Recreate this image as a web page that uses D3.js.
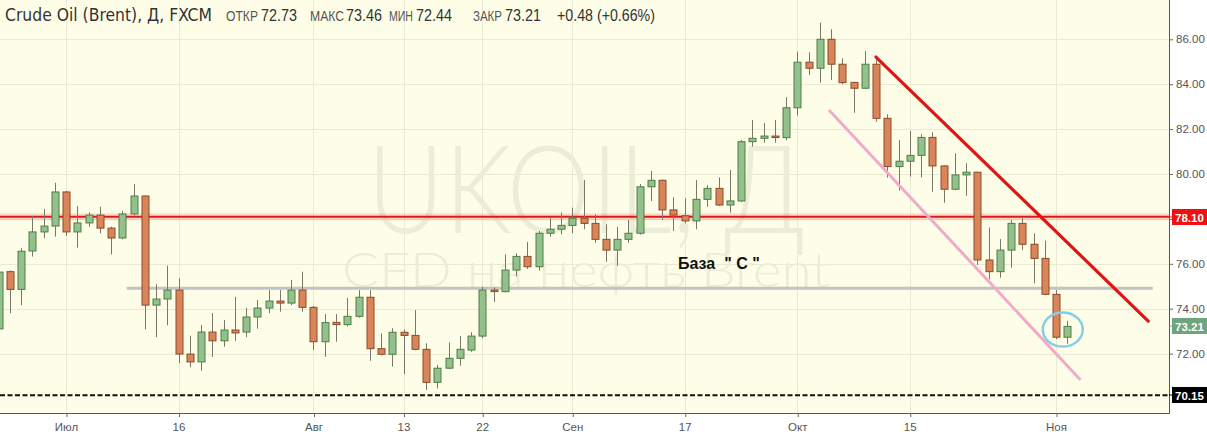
<!DOCTYPE html>
<html><head><meta charset="utf-8">
<script src="https://cdn.jsdelivr.net/npm/d3@7"></script>
<style>body{margin:0;background:#fff;}svg{display:block}</style>
</head><body><svg id="c" width="1207" height="436"></svg>
<script>
// ---------- DATA ----------
const dates = ["2018-06-22","2018-06-25","2018-06-26","2018-06-27","2018-06-28","2018-06-29",
"2018-07-02","2018-07-03","2018-07-04","2018-07-05","2018-07-06","2018-07-09","2018-07-10","2018-07-11","2018-07-12","2018-07-13",
"2018-07-16","2018-07-17","2018-07-18","2018-07-19","2018-07-20","2018-07-23","2018-07-24","2018-07-25","2018-07-26","2018-07-27",
"2018-07-30","2018-07-31","2018-08-01","2018-08-02","2018-08-03","2018-08-06","2018-08-07","2018-08-08","2018-08-09","2018-08-10",
"2018-08-13","2018-08-14","2018-08-15","2018-08-16","2018-08-17","2018-08-20","2018-08-21","2018-08-22","2018-08-23","2018-08-24",
"2018-08-27","2018-08-28","2018-08-29","2018-08-30","2018-08-31","2018-09-03","2018-09-04","2018-09-05","2018-09-06","2018-09-07",
"2018-09-10","2018-09-11","2018-09-12","2018-09-13","2018-09-14","2018-09-17","2018-09-18","2018-09-19","2018-09-20","2018-09-21",
"2018-09-24","2018-09-25","2018-09-26","2018-09-27","2018-09-28","2018-10-01","2018-10-02","2018-10-03","2018-10-04","2018-10-05",
"2018-10-08","2018-10-09","2018-10-10","2018-10-11","2018-10-12","2018-10-15","2018-10-16","2018-10-17","2018-10-18","2018-10-19",
"2018-10-22","2018-10-23","2018-10-24","2018-10-25","2018-10-26","2018-10-29","2018-10-30","2018-10-31","2018-11-01","2018-11-02"];

const open = [73.10,75.65,74.86,76.57,77.42,77.68,
79.20,77.42,77.82,78.17,77.59,77.15,78.22,79.02,74.16,74.43,
74.83,71.98,71.63,72.96,72.57,73.05,72.96,73.63,74.03,74.34,
74.25,74.83,74.06,72.53,73.39,73.29,73.66,74.51,72.22,71.97,
72.95,72.81,72.19,70.72,71.35,71.79,72.16,72.78,74.83,74.76,
75.72,76.33,75.87,77.36,77.54,77.71,78.03,77.80,77.09,76.61,
77.09,77.36,79.43,79.72,78.40,78.14,77.91,78.87,79.36,78.62,
78.80,81.44,81.59,81.69,81.62,82.95,84.98,84.71,86.00,84.89,
84.08,83.82,84.89,82.48,80.33,80.57,80.83,81.63,80.36,79.32,
79.96,80.08,76.17,75.65,76.61,77.80,76.87,76.24,74.64,72.73];

const high = [75.80,75.70,76.69,78.14,78.44,79.61,
79.25,78.57,78.29,78.54,77.65,78.35,79.55,79.05,75.09,75.92,
75.35,72.80,73.27,73.80,73.50,74.53,74.04,74.39,74.83,74.83,
75.28,75.65,74.12,73.76,73.76,74.48,74.83,74.83,72.90,73.13,
73.08,73.94,72.46,71.49,72.50,72.78,72.95,74.98,74.95,76.42,
76.47,76.98,77.46,78.03,78.28,78.50,79.73,78.20,77.76,77.65,
77.95,79.55,80.13,79.75,78.96,78.92,79.73,79.51,79.85,80.18,
81.51,82.40,82.27,82.40,83.42,85.45,85.42,86.74,86.45,85.15,
84.10,85.48,85.08,82.66,81.51,81.92,81.77,81.86,80.40,80.92,
80.48,80.10,77.61,77.10,77.95,78.03,77.36,77.03,74.83,73.46];

const low = [72.90,73.80,74.16,76.32,77.14,77.21,
77.24,76.72,77.65,77.36,76.42,77.09,78.15,73.08,72.73,73.26,
71.57,71.39,71.24,71.86,72.31,72.57,72.73,73.11,73.80,73.87,
74.16,73.87,72.16,71.86,72.53,73.20,73.60,71.68,71.92,71.42,
71.09,72.15,70.38,70.45,71.31,71.46,72.08,72.68,74.30,74.73,
75.43,75.77,75.69,77.21,77.31,77.36,77.54,76.94,76.09,75.90,
76.94,77.30,78.80,77.95,77.46,77.80,77.54,78.54,78.57,78.28,
78.75,81.22,81.39,81.39,81.50,82.60,84.41,84.07,84.19,84.00,
82.73,83.78,82.33,79.84,79.26,79.88,79.85,79.21,78.72,79.28,
79.03,75.95,75.31,75.38,75.83,76.61,75.13,74.60,72.64,72.44];

const close = [75.63,74.86,76.56,77.42,77.68,79.20,
77.42,77.82,78.17,77.59,77.15,78.22,79.02,74.16,74.43,74.83,
71.98,71.63,72.96,72.57,73.05,72.92,73.63,74.03,74.34,74.25,
74.83,74.06,72.53,73.38,73.29,73.66,74.51,72.22,71.97,72.95,
72.81,72.19,70.72,71.35,71.79,72.19,72.78,74.83,74.77,75.72,
76.33,75.87,77.36,77.54,77.71,78.03,77.80,77.09,76.61,77.09,
77.36,79.43,79.72,78.40,78.17,77.91,78.87,79.36,78.62,78.80,
81.44,81.59,81.69,81.65,82.95,84.98,84.71,86.00,84.89,84.07,
83.82,84.89,82.48,80.33,80.57,80.83,81.63,80.36,79.32,79.96,
80.08,76.17,75.65,76.61,77.80,76.87,76.24,74.64,72.73,73.21];

const tickDates  = ["2018-07-02","2018-07-16","2018-08-01","2018-08-13","2018-08-22","2018-09-03","2018-09-17","2018-10-01","2018-10-15","2018-11-01"];
const tickLabels = ["Июл","16","Авг","13","22","Сен","17","Окт","15","Ноя"];
const priceTicks = [72,74,76,78,80,82,84,86];

const levelRed = 78.10;
const levelBlack = 70.15;
// drawings in [bar index, price]
const grayLine  = [[11.4, 74.91],[102.6, 74.91]];
const redTrend  = [[78.0, 85.21],[102.2, 73.45]];
const pinkTrend = [[73.9, 82.81],[96.1, 70.87]];
const circleAt  = [94.6, 73.07];
const noteAt    = [60.4, 75.78];
const noteText  = "База  \" С \"";
const title = "Crude Oil (Brent), Д, FXCM";
const headerLabels = ["ОТКР","МАКС","МИН","ЗАКР"];
const watermark1 = "UKOIL, Д";
const watermark2 = "CFD на нефть Brent";

// ---------- LAYOUT ----------
const W = 1207, H = 436, plotR = 1169, plotB = 413;
const svg = d3.select("#c");
const x = d3.scaleLinear().domain([0, 95]).range([-1.5, 1067.25]);
const y = d3.scaleLinear().domain([70, 86]).range([398.5, 39.3]);
const idx = d => dates.indexOf(d);

svg.append("rect").attr("width", W).attr("height", H).attr("fill", "#ffffff");
svg.append("rect").attr("width", plotR).attr("height", plotB).attr("fill", "#fefee8");

svg.append("defs").append("clipPath").attr("id","clip")
  .append("rect").attr("width", plotR).attr("height", plotB);

const plot = svg.append("g").attr("clip-path","url(#clip)");

// grid
plot.selectAll(".hg").data(priceTicks).join("line")
  .attr("x1",0).attr("x2",plotR).attr("y1",d=>Math.round(y(d))+0.5).attr("y2",d=>Math.round(y(d))+0.5)
  .attr("stroke","#e9ead4").attr("stroke-width",1);
plot.selectAll(".vg").data(tickDates).join("line")
  .attr("y1",0).attr("y2",plotB).attr("x1",d=>Math.round(x(idx(d)))+0.5).attr("x2",d=>Math.round(x(idx(d)))+0.5)
  .attr("stroke","#e9ead4").attr("stroke-width",1);

// watermark
plot.append("text").text(watermark1).attr("x",586).attr("y",233)
  .attr("text-anchor","middle").attr("font-family","Lato, 'Liberation Sans', sans-serif").attr("font-weight",300)
  .attr("font-size",122).attr("fill","#ecedd6").attr("textLength",438).attr("lengthAdjust","spacingAndGlyphs");
plot.append("text").text(watermark2).attr("x",586).attr("y",287)
  .attr("text-anchor","middle").attr("font-family","Lato, 'Liberation Sans', sans-serif").attr("font-weight",300)
  .attr("font-size",48).attr("fill","#ecedd6").attr("textLength",488).attr("lengthAdjust","spacingAndGlyphs");

// header
const hdr = svg.append("g").attr("font-family","'Liberation Sans',Arial,sans-serif");
hdr.append("text").text(title).attr("x",5).attr("y",21)
  .attr("font-family","'DejaVu Sans Condensed','DejaVu Sans',sans-serif").attr("font-size",17).attr("fill","#333")
  .attr("textLength",207).attr("lengthAdjust","spacingAndGlyphs");
const last = dates.length - 1;
const chg = close[last] - close[last-1];
const hVals = [open[last], high[last], low[last], close[last]];
const hLabelX = [226, 310, 389, 473];
const hLabelW = [32, 34, 24, 29];
const hValX = [261, 346, 416, 505];
headerLabels.forEach((l,k)=>{
  hdr.append("text").text(l).attr("x",hLabelX[k]).attr("y",21).attr("font-size",14).attr("fill","#555")
    .attr("textLength",hLabelW[k]).attr("lengthAdjust","spacingAndGlyphs");
  hdr.append("text").text(hVals[k].toFixed(2)).attr("x",hValX[k]).attr("y",21).attr("font-size",17).attr("fill","#333")
    .attr("textLength",36).attr("lengthAdjust","spacingAndGlyphs");
});
hdr.append("text").text((chg>=0?"+":"")+chg.toFixed(2)+" ("+(chg>=0?"+":"")+(chg/close[last-1]*100).toFixed(2)+"%)")
  .attr("x",557).attr("y",21).attr("font-size",17).attr("fill","#333")
  .attr("textLength",98).attr("lengthAdjust","spacingAndGlyphs");

// horizontal levels
plot.append("line").attr("x1",0).attr("x2",plotR).attr("y1",y(levelRed)).attr("y2",y(levelRed))
  .attr("stroke","rgba(255,60,60,0.18)").attr("stroke-width",7);
plot.append("line").attr("x1",0).attr("x2",plotR).attr("y1",y(levelRed)).attr("y2",y(levelRed))
  .attr("stroke","#e01818").attr("stroke-width",2);
plot.append("line").attr("x1",x(grayLine[0][0])).attr("x2",x(grayLine[1][0]))
  .attr("y1",y(grayLine[0][1])).attr("y2",y(grayLine[1][1]))
  .attr("stroke","#c3c3c3").attr("stroke-width",3);
plot.append("line").attr("x1",0).attr("x2",plotR).attr("y1",y(levelBlack)).attr("y2",y(levelBlack))
  .attr("stroke","#111").attr("stroke-width",2).attr("stroke-dasharray","5,2.5");

// candles
const ohlc = dates.map((d,i)=>({i, o:open[i], h:high[i], l:low[i], c:close[i]}));
const up = d => d.c >= d.o;
const cg = plot.append("g");
cg.selectAll(".wick").data(ohlc).join("line")
  .attr("x1",d=>Math.round(x(d.i))+0.5).attr("x2",d=>Math.round(x(d.i))+0.5)
  .attr("y1",d=>y(d.h)).attr("y2",d=>y(d.l))
  .attr("stroke","#77776a").attr("stroke-width",1);
cg.selectAll(".body").data(ohlc).join("rect")
  .attr("x",d=>Math.round(x(d.i))-3)
  .attr("width",7)
  .attr("y",d=>y(Math.max(d.o,d.c)))
  .attr("height",d=>Math.max(1.5, Math.abs(y(d.o)-y(d.c))))
  .attr("fill",d=>up(d)?"#92c18c":"#da8459")
  .attr("stroke",d=>up(d)?"#4f7d48":"#8c4a2c").attr("stroke-width",1);

// trend lines
const ln = d3.line().x(d=>x(d[0])).y(d=>y(d[1]));
plot.append("path").attr("d",ln(pinkTrend)).attr("stroke","#f3a9c9").attr("stroke-width",3).attr("fill","none").attr("stroke-linecap","round");
plot.append("path").attr("d",ln(redTrend)).attr("stroke","#dd1616").attr("stroke-width",3.2).attr("fill","none").attr("stroke-linecap","round");
plot.append("ellipse").attr("cx",x(circleAt[0])).attr("cy",y(circleAt[1])).attr("rx",20).attr("ry",17)
  .attr("fill","none").attr("stroke","#86cde6").attr("stroke-width",2.5);

// note
plot.append("text").text(noteText).attr("x",x(noteAt[0])).attr("y",y(noteAt[1]))
  .attr("font-family","'Liberation Sans',Arial,sans-serif").attr("font-weight","bold").attr("font-size",16).attr("fill","#111")
  .attr("xml:space","preserve").style("white-space","pre");

// borders
svg.append("line").attr("x1",plotR+0.5).attr("x2",plotR+0.5).attr("y1",0).attr("y2",plotB+0.5).attr("stroke","#555");
svg.append("line").attr("x1",0).attr("x2",plotR+0.5).attr("y1",plotB+0.5).attr("y2",plotB+0.5).attr("stroke","#555");

// axes
const ax = svg.append("g").attr("transform",`translate(0,${plotB})`)
  .call(d3.axisBottom(x).tickValues(tickDates.map(idx)).tickFormat((d,i)=>tickLabels[i]).tickSize(4).tickPadding(6));
ax.select(".domain").remove();
ax.selectAll(".tick line").attr("stroke","#666").attr("transform","translate(0.5,0)");
ax.selectAll("text").attr("font-family","'Liberation Sans',Arial,sans-serif").attr("font-size",11.5).attr("fill","#555");

const ay = svg.append("g").attr("transform",`translate(${plotR},0)`)
  .call(d3.axisRight(y).tickValues(priceTicks).tickFormat(d3.format(".2f")).tickSize(4).tickPadding(3));
ay.select(".domain").remove();
ay.selectAll(".tick line").attr("stroke","#666");
ay.selectAll("text").attr("font-family","'Liberation Sans',Arial,sans-serif").attr("font-size",11.5).attr("fill","#555");

// price labels
[[levelRed,"#f01010"],[close[last],"#6ea57f"],[levelBlack,"#000"]].forEach(([v,col])=>{
  const g = svg.append("g").attr("transform",`translate(${plotR},${Math.round(y(v))})`);
  g.append("line").attr("x1",0).attr("x2",4).attr("stroke",col);
  g.append("rect").attr("x",3).attr("y",-8).attr("width",W-plotR-3).attr("height",16).attr("fill",col);
  g.append("text").text(v.toFixed(2)).attr("x",6).attr("y",4.5)
    .attr("font-family","'Liberation Sans',Arial,sans-serif").attr("font-weight","bold").attr("font-size",11.5).attr("fill","#fff");
});
</script></body></html>
